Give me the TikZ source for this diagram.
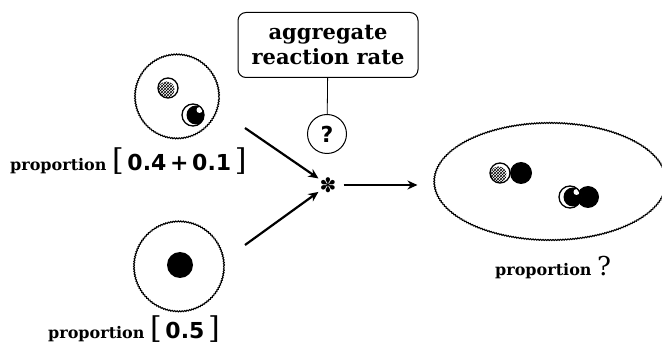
\documentclass[tikz,border=0pt]{standalone}
\usepackage{fontspec}
\setmainfont{DejaVu Serif}
\newfontfamily\numfont{DejaVu Sans}
\usetikzlibrary{arrows.meta,positioning,shapes.geometric,patterns,decorations.pathmorphing}
\tikzset{
  mixture/.style={circle,draw,line width=1.1pt,decorate,decoration={snake,amplitude=0.5pt,segment length=2.5pt}},
  hatchball/.style={circle,draw,line width=1.3pt,minimum size=20pt,inner sep=0pt,fill=white,
    path picture={\fill[pattern=crosshatch] ([shift={(-1.5pt,-1.5pt)}]path picture bounding box.center) circle (8pt);}},
  halfball/.style={circle,draw,line width=1.3pt,minimum size=22pt,inner sep=0pt,fill=white,
    path picture={\fill[black] ([shift={(3pt,0pt)}]path picture bounding box.center) circle (9.5pt);
      \fill[white] ([shift={(6.5pt,5pt)}]path picture bounding box.center) circle (3pt);}},
  blackball/.style={circle,fill=black,inner sep=0pt,minimum size=#1},
  blackball/.default=22pt,
  proplabel/.style={anchor=base west,font=\bfseries\fontsize{16}{20}\selectfont,inner sep=0pt},
  flow/.style={-{Stealth[length=10pt,width=9pt]},line width=2.2pt}
}
\newcommand{\bignum}[1]{{\mdseries\fontsize{30}{32}\selectfont[{\numfont\bfseries\fontsize{22}{26}\selectfont\,#1\,}]}}

\begin{document}
\begin{tikzpicture}[x=1pt,y=-1pt]
\useasboundingbox (0,0) rectangle (662,347);
% reactant mixtures
\node[mixture,minimum size=84pt] (mixA) at (177,97) {};
\node[hatchball] (ballA1) at (168,88) {};
\node[halfball] (ballA2) at (193,115) {};
\node[proplabel] (propA) at (10,171) {proportion \bignum{0.4\,+\,0.1}};
\node[mixture,minimum size=90pt] (mixB) at (179,267) {};
\node[blackball=26pt] (ballB) at (180,265) {};
\node[proplabel] (propB) at (48,339) {proportion \bignum{0.5}};
% rate
\node[draw,rounded corners=8pt,line width=1pt,minimum width=180pt,minimum height=65pt,align=center,
  font=\bfseries\fontsize{21}{25}\selectfont] (rate) at (328,45) {aggregate\\reaction rate};
\node[circle,draw,line width=1pt,minimum size=39pt,inner sep=0pt,
  font=\numfont\bfseries\fontsize{22}{24}\selectfont] (q) at (327,134) {?};
\draw[line width=0.8pt] (rate) -- (q);
\node[font=\numfont\fontsize{20}{20}\selectfont,inner sep=1pt] (join) at (328,185) {✽};
\coordinate (inA) at (245,128);
\coordinate (inB) at (245,245);
\draw[flow] (inA) -- (join);
\draw[flow] (inB) -- (join);
% product mixture
\node[mixture,ellipse,minimum width=232pt,minimum height=117pt] (prod) at (550,182) {};
\draw[flow,shorten <=6pt,shorten >=16pt] (join) -- (join -| prod.west);
\node[blackball=22pt] (ballC2) at (521,173) {};
\node[hatchball] (ballC1) at (500,173) {};
\node[blackball=22pt] (ballD2) at (588,197) {};
\node[halfball] (ballD1) at (570,197) {};
\node[proplabel] (propC) at (495,276) {proportion {\mdseries\fontsize{26}{30}\selectfont ?}};
\end{tikzpicture}
\end{document}
